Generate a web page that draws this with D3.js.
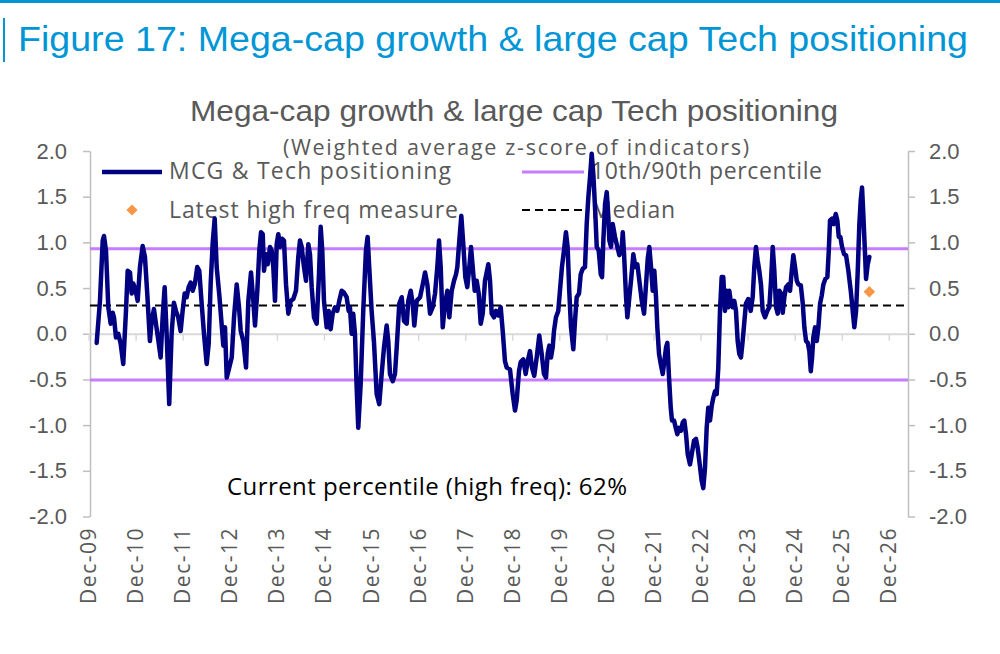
<!DOCTYPE html>
<html>
<head>
<meta charset="utf-8">
<script src="https://cdn.jsdelivr.net/npm/d3@7"></script>
<style>
  body { margin: 0; background: #fff; }
  svg { display: block; }
</style>
</head>
<body>
<div id="chart"></div>
<script>
// observation dates as decimal years
const dates = [
  2010.087,2010.157,2010.215,2010.242,2010.285,2010.334,2010.385,2010.427,2010.455,2010.497,
  2010.546,2010.597,2010.652,2010.710,2010.746,2010.795,2010.831,2010.865,2010.916,2010.958,
  2011.007,2011.064,2011.113,2011.162,2011.219,2011.256,2011.304,2011.347,2011.389,2011.447,
  2011.489,2011.532,2011.574,2011.629,2011.680,2011.729,2011.772,2011.821,2011.872,2011.914,
  2011.957,2011.999,2012.042,2012.084,2012.127,2012.175,2012.224,2012.267,2012.318,2012.367,
  2012.424,2012.467,2012.509,2012.551,2012.594,2012.636,2012.696,2012.777,2012.813,2012.849,
  2012.904,2012.955,2013.004,2013.061,2013.110,2013.146,2013.202,2013.259,2013.308,2013.365,
  2013.414,2013.450,2013.499,2013.541,2013.578,2013.614,2013.641,2013.684,2013.720,2013.769,
  2013.805,2013.839,2013.875,2013.911,2013.945,2013.981,2014.024,2014.066,2014.109,2014.158,
  2014.209,2014.264,2014.321,2014.370,2014.406,2014.442,2014.491,2014.534,2014.583,2014.619,
  2014.655,2014.704,2014.761,2014.810,2014.846,2014.880,2014.916,2014.973,2015.016,2015.058,
  2015.101,2015.150,2015.199,2015.241,2015.292,2015.341,2015.398,2015.441,2015.468,2015.505,
  2015.538,2015.575,2015.611,2015.645,2015.696,2015.751,2015.808,2015.844,2015.878,2015.929,
  2015.978,2016.036,2016.091,2016.142,2016.191,2016.248,2016.282,2016.318,2016.376,2016.424,
  2016.461,2016.516,2016.567,2016.616,2016.673,2016.707,2016.758,2016.800,2016.834,2016.885,
  2016.956,2017.013,2017.062,2017.111,2017.168,2017.225,2017.274,2017.323,2017.359,2017.395,
  2017.438,2017.487,2017.536,2017.578,2017.629,2017.678,2017.720,2017.748,2017.790,2017.833,
  2017.875,2017.918,2017.960,2018.003,2018.039,2018.075,2018.118,2018.160,2018.203,2018.245,
  2018.288,2018.336,2018.407,2018.443,2018.479,2018.528,2018.570,2018.619,2018.670,2018.713,
  2018.761,2018.798,2018.868,2018.925,2018.974,2019.010,2019.059,2019.095,2019.150,2019.201,
  2019.244,2019.293,2019.335,2019.384,2019.435,2019.490,2019.541,2019.590,2019.633,2019.669,
  2019.703,2019.739,2019.775,2019.803,2019.845,2019.894,2019.930,2019.972,2020.015,2020.057,
  2020.093,2020.127,2020.164,2020.213,2020.249,2020.285,2020.334,2020.370,2020.412,2020.461,
  2020.497,2020.531,2020.567,2020.603,2020.637,2020.674,2020.710,2020.752,2020.795,2020.822,
  2020.850,2020.886,2020.922,2020.956,2020.977,2021.013,2021.049,2021.098,2021.147,2021.190,
  2021.241,2021.262,2021.290,2021.332,2021.360,2021.402,2021.445,2021.487,2021.530,2021.572,
  2021.615,2021.666,2021.715,2021.757,2021.793,2021.827,2021.863,2021.899,2021.933,2021.969,
  2021.997,2022.033,2022.069,2022.112,2022.146,2022.182,2022.210,2022.246,2022.282,2022.309,
  2022.352,2022.388,2022.422,2022.458,2022.501,2022.537,2022.571,2022.607,2022.643,2022.692,
  2022.728,2022.777,2022.819,2022.855,2022.889,2022.940,2022.974,2023.010,2023.046,2023.080,
  2023.117,2023.153,2023.187,2023.223,2023.259,2023.293,2023.329,2023.365,2023.399,2023.435,
  2023.471,2023.505,2023.527,2023.563,2023.599,2023.633,2023.669,2023.705,2023.739,2023.775,
  2023.811,2023.845,2023.881,2023.930,2023.981,2024.024,2024.058,2024.094,2024.130,2024.164,
  2024.200,2024.236,2024.285,2024.334,2024.377,2024.413,2024.449,2024.483,2024.519,2024.555,
  2024.589,2024.625,2024.661,2024.695,2024.731,2024.780,2024.816,2024.852,2024.886,2024.922,
  2024.959,2024.993,2025.044,2025.086,2025.120,2025.156,2025.192,2025.226,2025.256,2025.284,
  2025.311,2025.347,2025.384,2025.418,2025.454,2025.490,2025.524,2025.566,2025.609,2025.639,
  2025.666,2025.709,2025.745,2025.787,2025.821,2025.851,2025.885,2025.921,2025.964,2026.006,
  2026.055,2026.106,2026.148,2026.182,2026.219,2026.255,2026.289,2026.318,2026.346,2026.373,
  2026.410,2026.431,2026.467,2026.501
];

// MCG & Tech positioning z-score
const values = [
  -0.10,0.36,1.02,1.07,0.91,0.29,0.11,0.23,0.18,-0.04,
  0.00,-0.11,-0.33,0.25,0.69,0.67,0.44,0.55,0.47,0.36,
  0.73,0.96,0.84,0.44,-0.08,0.14,0.27,0.11,-0.04,-0.26,
  0.18,0.51,0.00,-0.77,0.00,0.34,0.25,0.18,0.03,0.25,
  0.44,0.40,0.51,0.56,0.47,0.55,0.73,0.69,0.33,0.00,
  -0.33,-0.11,0.55,0.99,1.26,0.73,0.40,-0.13,0.07,-0.48,
  -0.37,-0.26,0.18,0.54,0.29,0.03,-0.08,-0.37,0.36,0.67,
  0.36,0.09,0.47,0.91,1.11,1.09,0.69,0.87,0.76,0.95,
  0.91,0.73,0.36,0.98,1.09,0.95,1.04,1.02,0.54,0.22,
  0.36,0.38,0.47,0.84,1.02,0.95,0.73,0.58,0.98,0.87,
  0.51,0.18,0.11,0.65,1.17,0.91,0.36,0.07,0.25,0.05,
  0.22,0.29,0.25,0.36,0.47,0.45,0.40,0.25,0.29,0.00,
  0.22,0.00,-0.59,-1.03,-0.55,0.25,0.91,1.06,0.73,0.25,
  -0.08,-0.66,-0.77,-0.44,-0.15,0.09,-0.08,-0.44,-0.52,-0.44,
  -0.15,0.33,0.40,0.14,0.11,0.36,0.47,0.33,0.09,0.36,
  0.40,0.54,0.67,0.54,0.22,0.29,0.44,0.73,1.02,0.73,
  0.07,0.33,0.47,0.18,0.47,0.58,0.65,0.73,1.02,1.29,
  0.98,0.62,0.51,0.73,0.95,0.73,0.47,0.58,0.44,0.11,
  0.22,0.58,0.76,0.58,0.22,0.18,0.25,0.20,0.29,0.03,
  -0.30,-0.37,-0.39,-0.66,-0.84,-0.73,-0.41,-0.31,-0.28,-0.44,
  -0.30,-0.19,-0.37,-0.46,-0.26,-0.02,-0.22,-0.44,-0.48,-0.22,
  -0.13,-0.26,-0.15,0.03,0.18,0.25,0.47,0.73,0.91,1.11,
  0.95,0.47,0.07,-0.17,0.14,0.40,0.44,0.65,0.71,0.73,
  1.20,1.49,1.71,1.97,1.75,1.38,0.95,0.91,0.65,0.62,
  1.02,1.42,1.55,1.28,1.02,0.95,1.20,1.06,0.95,0.86,
  0.95,1.11,0.87,0.40,0.18,0.40,0.62,0.87,0.73,0.76,
  0.58,0.36,0.22,0.54,0.82,0.95,0.73,0.47,0.69,0.40,
  0.07,-0.22,-0.33,-0.44,-0.30,-0.15,-0.10,-0.48,-0.81,-0.95,
  -0.95,-1.03,-1.10,-1.03,-1.06,-0.97,-0.95,-1.10,-1.32,-1.43,
  -1.32,-1.17,-1.15,-1.25,-1.39,-1.61,-1.69,-1.47,-1.03,-0.81,
  -0.95,-0.79,-0.70,-0.63,-0.66,-0.37,0.25,0.62,0.62,0.25,
  0.47,0.29,0.47,0.33,0.29,0.36,0.25,-0.08,-0.22,-0.26,
  -0.08,0.12,0.33,0.38,0.25,0.40,0.73,0.95,0.80,0.69,
  0.54,0.25,0.18,0.25,0.29,0.58,0.95,0.69,0.29,0.22,
  0.47,0.44,0.23,0.40,0.51,0.54,0.47,0.69,0.86,0.73,
  0.58,0.54,0.53,0.33,0.07,-0.08,-0.10,-0.19,-0.41,-0.26,
  -0.04,0.07,-0.08,0.07,0.33,0.42,0.54,0.60,0.62,0.91,
  1.24,1.26,1.20,1.31,1.24,1.06,1.06,0.95,0.87,0.86,
  0.69,0.47,0.25,0.07,0.25,0.69,1.20,1.46,1.60,1.31,
  0.87,0.60,0.76,0.84
];

const pct10 = -0.505;
const pct90 = 0.93;
const median = 0.31;
const latestDates = [2026.501];
const latestValues = [0.46];
const currentPercentile = 62;

const yTicks = [-2, -1.5, -1, -0.5, 0, 0.5, 1, 1.5, 2];
const tickYears = d3.range(2009, 2027); // Dec of each year

// decimal year -> Date
function decToDate(d) {
    const yr = Math.floor(d);
    const a = new Date(yr, 0, 1), b = new Date(yr + 1, 0, 1);
    return new Date(+a + (d - yr) * (b - a));
}

const W = 1000, H = 654;
const grey = "#595959";
const navy = "#000080";
const purple = "#C77DFF";
const orange = "#F79646";
const blue = "#0096D6";
const sansLegend = "'Open Sans', 'Liberation Sans', Arial, sans-serif";
const sansTitle = "'Liberation Sans Narrow', 'Arial Narrow', 'Liberation Sans', Arial, sans-serif";

const svg = d3.select("#chart").append("svg")
    .attr("width", W).attr("height", H)
    .style("background", "#fff");

const x = d3.scaleTime()
    .domain([decToDate(2009.945), decToDate(2027.323)])
    .range([90, 908]);
const y = d3.scaleLinear().domain([-2, 2]).range([516.5, 151]);

// header
svg.append("rect").attr("x", 0).attr("y", 0).attr("width", W).attr("height", 3).attr("fill", blue);
svg.append("rect").attr("x", 3).attr("y", 18).attr("width", 2).attr("height", 44).attr("fill", blue);
svg.append("text")
    .attr("x", 18).attr("y", 51)
    .attr("font-family", sansTitle).attr("font-size", 35)
    .attr("textLength", 950).attr("lengthAdjust", "spacingAndGlyphs")
    .attr("fill", blue)
    .text("Figure 17: Mega-cap growth & large cap Tech positioning");

svg.append("text")
    .attr("x", 514).attr("y", 121).attr("text-anchor", "middle")
    .attr("font-family", sansTitle).attr("font-size", 29)
    .attr("textLength", 648).attr("lengthAdjust", "spacingAndGlyphs")
    .attr("fill", grey)
    .text("Mega-cap growth & large cap Tech positioning");
svg.append("text")
    .attr("x", 516).attr("y", 155).attr("text-anchor", "middle")
    .attr("font-family", sansLegend).attr("font-size", 21.5)
    .attr("textLength", 466)
    .attr("fill", grey)
    .text("(Weighted average z-score of indicators)");

// y axes
function styleAxis(g) {
    g.select(".domain").attr("stroke", "#BFBFBF").attr("stroke-width", 1.5);
    g.selectAll(".tick line").attr("stroke", "#BFBFBF").attr("stroke-width", 1.5);
    g.selectAll(".tick text").attr("fill", grey)
        .attr("font-family", "'Liberation Sans', Arial, sans-serif").attr("font-size", 22);
}
const fmt = d => d.toFixed(1);
svg.append("g").attr("transform", "translate(90,0)")
    .call(d3.axisLeft(y).tickValues(yTicks).tickFormat(fmt).tickSize(7).tickSizeOuter(0).tickPadding(16))
    .call(styleAxis);
svg.append("g").attr("transform", "translate(908,0)")
    .call(d3.axisRight(y).tickValues(yTicks).tickFormat(fmt).tickSize(7).tickSizeOuter(0).tickPadding(14))
    .call(styleAxis);

// x axis on the zero line
const tickDates = tickYears.map(yr => new Date(yr, 11, 1));
svg.append("g").attr("transform", `translate(0,${y(0)})`)
    .call(d3.axisBottom(x).tickValues(tickDates).tickFormat("").tickSize(7).tickSizeOuter(0))
    .call(g => {
        g.select(".domain").attr("stroke", "#D9D9D9").attr("stroke-width", 2);
        g.selectAll(".tick line").attr("stroke", "#D9D9D9").attr("stroke-width", 1.5);
    });
svg.append("g").selectAll("text").data(tickDates).join("text")
    .attr("transform", d => `translate(${x(d)},527) rotate(-90)`)
    .attr("text-anchor", "end").attr("dy", "0.36em")
    .attr("font-family", sansLegend).attr("font-size", 21)
    .attr("letter-spacing", 1.5)
    .attr("fill", grey)
    .text(d3.timeFormat("%b-%y"));

// reference lines
const refs = [
    { v: pct90, color: purple, w: 3, dash: null },
    { v: pct10, color: purple, w: 3, dash: null },
    { v: median, color: "#000", w: 2, dash: "8,5" }
];
svg.append("g").selectAll("line").data(refs).join("line")
    .attr("x1", 90).attr("x2", 908)
    .attr("y1", d => y(d.v)).attr("y2", d => y(d.v))
    .attr("stroke", d => d.color).attr("stroke-width", d => d.w)
    .attr("stroke-dasharray", d => d.dash);

// legend (drawn under the series)
const lg = svg.append("g").attr("font-family", sansLegend).attr("font-size", 23).attr("fill", grey);
lg.append("line").attr("x1", 102).attr("x2", 162).attr("y1", 172).attr("y2", 172)
    .attr("stroke", navy).attr("stroke-width", 4.5);
lg.append("text").attr("x", 169).attr("y", 179).attr("textLength", 282).text("MCG & Tech positioning");
lg.append("line").attr("x1", 522).attr("x2", 584).attr("y1", 172).attr("y2", 172)
    .attr("stroke", purple).attr("stroke-width", 3);
lg.append("text").attr("x", 591).attr("y", 179).attr("textLength", 231).text("10th/90th percentile");
lg.append("path").attr("d", d3.symbol(d3.symbolDiamond2, 80)())
    .attr("transform", "translate(132,210)").attr("fill", orange);
lg.append("text").attr("x", 169).attr("y", 218).attr("textLength", 289).text("Latest high freq measure");
lg.append("line").attr("x1", 522).attr("x2", 584).attr("y1", 210).attr("y2", 210)
    .attr("stroke", "#000").attr("stroke-width", 2).attr("stroke-dasharray", "8,5");
lg.append("text").attr("x", 591).attr("y", 218).attr("textLength", 84).text("Median");

// series
const series = dates.map((d, i) => ({ date: decToDate(d), value: values[i] }));
const line = d3.line().x(d => x(d.date)).y(d => y(d.value));
svg.append("path").datum(series)
    .attr("d", line)
    .attr("fill", "none").attr("stroke", navy).attr("stroke-width", 4.5)
    .attr("stroke-linejoin", "round").attr("stroke-linecap", "round");

// latest high-frequency point
svg.append("g").selectAll("path").data(latestDates.map((d, i) => ({ date: decToDate(d), value: latestValues[i] })))
    .join("path")
    .attr("d", d3.symbol(d3.symbolDiamond2, 85)())
    .attr("transform", d => `translate(${x(d.date)},${y(d.value)})`)
    .attr("fill", orange);

svg.append("text")
    .attr("x", 227).attr("y", 495)
    .attr("font-family", sansLegend).attr("font-size", 24)
    .attr("textLength", 400)
    .attr("fill", "#000")
    .text(`Current percentile (high freq): ${currentPercentile}%`);
</script>
</body>
</html>
